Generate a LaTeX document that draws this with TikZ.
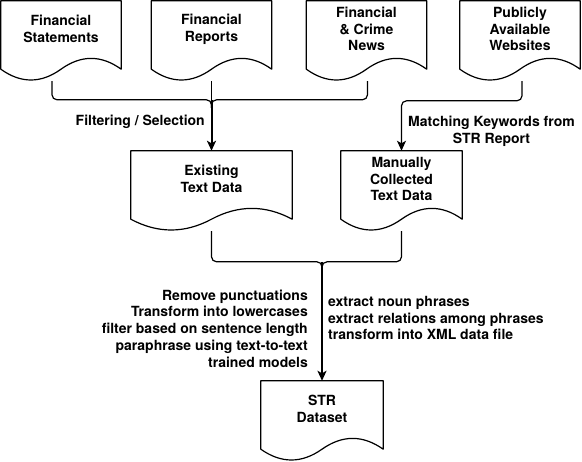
\documentclass[tikz,border=0pt]{standalone}
\usepackage{fontspec}
\setmainfont{TeX Gyre Heros}
\usetikzlibrary{positioning, arrows.meta, calc}

\newcommand{\flowfont}{\bfseries\fontsize{14}{16.8}\selectfont}

\tikzset{
  docbox/.style={minimum width=120pt, minimum height=56pt, inner sep=2pt, align=center, font=\flowfont},
  doc outline/.style={line width=1.2pt, line join=round},
  link/.style={line width=1.2pt, rounded corners=5pt},
  flow/.style={line width=1.2pt, rounded corners=5pt, -{Stealth[length=10pt, width=9pt, inset=2.5pt]}},
  stem/.style={line width=2pt, -{Stealth[length=10pt, width=9pt, inset=2.5pt]}},
  note/.style={inner sep=0pt, font=\flowfont}
}

% wavy "document" outline round a node (text area is the node, wave hangs below)
\newcommand{\docframe}[1]{%
  \draw[doc outline] (#1.north west) -- (#1.north east) -- ([yshift=-12pt]#1.south east)
    .. controls ($(#1.south west)!5/6!(#1.south east)+(0,2.4pt)$) and ($(#1.south west)!2/3!(#1.south east)+(0,2.4pt)$) .. ([yshift=-12pt]#1.south)
    .. controls ($(#1.south west)!1/3!(#1.south east)+(0,-26.4pt)$) and ($(#1.south west)!1/6!(#1.south east)+(0,-26.4pt)$) .. ([yshift=-12pt]#1.south west)
    -- cycle;%
}

\begin{document}
\begin{tikzpicture}[x=1pt, y=-1pt]
  \path[use as bounding box, fill=white] (0,0) rectangle (582,462);

  % Sources
  \node[docbox] (fs) at (61,29) {Financial\\Statements};
  \node[docbox] (fr) at (211.5,29) {Financial\\Reports};
  \node[docbox] (fcn) at (366.5,29) {Financial\\\& Crime\\News};
  \node[docbox] (pw) at (520,29) {Publicly\\Available\\Websites};
  \docframe{fs}
  \docframe{fr}
  \docframe{fcn}
  \docframe{pw}

  % Collected text
  \node[docbox, minimum width=161pt] (etd) at (211.5,179) {Existing\\Text Data};
  \node[docbox, minimum width=121pt] (mctd) at (401.5,179) {Manually\\Collected\\Text Data};
  \docframe{etd}
  \docframe{mctd}

  % Dataset
  \node[docbox, minimum width=122pt] (str) at (322,409) {STR\\Dataset};
  \docframe{str}

  % Filtering of the existing sources
  \coordinate (j1) at ($(etd.north)+(0,51pt)$);
  \draw[link] ($(fs.south)+(-9pt,-24pt)$) |- (j1) -- ++(0,-8pt);
  \draw[link] ($(fcn.south)+(1pt,-24pt)$) |- (j1) -- ++(0,-8pt);
  \draw[link] ($(fr.south)+(0,-24pt)$) -- (j1);
  \draw[stem] (j1) -- (etd.north);
  \node[note, anchor=east] (filt) at (205,121.5) {Filtering / Selection};

  % Keyword matching on websites
  \draw[flow] ($(pw.south)+(2pt,-24pt)$) |- ($(mctd.north)+(0,50pt)$) -- (mctd.north);
  \node[note, align=center] (match) at (491.5,131.5) {Matching Keywords from\\STR Report};

  % Processing into the dataset
  \coordinate (j2) at ($(str.north)+(0,119pt)$);
  \draw[link] ($(etd.south)+(0,-24pt)$) |- (j2) -- ++(0,-8pt);
  \draw[link] ($(mctd.south)+(0,-24pt)$) |- (j2) -- ++(0,-8pt);
  \draw[stem] (j2) -- (str.north);
  \node[note, align=right, anchor=east] (clean) at (308,328.5)
    {Remove punctuations\\Transform into lowercases\\filter based on sentence length\\paraphrase using text-to-text\\trained models};
  \node[note, align=left, anchor=west] (extract) at (328,318)
    {extract noun phrases\\extract relations among phrases\\transform into XML data file};
\end{tikzpicture}
\end{document}
